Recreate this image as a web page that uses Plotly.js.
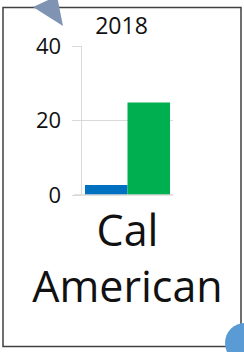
<!DOCTYPE html>
<html>
<head>
<meta charset="utf-8">
<script src="https://cdn.plot.ly/plotly-3.0.1.min.js"></script>
<style>
html,body{margin:0;padding:0;background:#fff;}
#chart{width:244px;height:352px;}
</style>
</head>
<body>
<div id="chart"></div>
<script>
// Data
var categories = ["Cal<br>American"];
var seriesA = [2.7];   // blue
var seriesB = [24.8];  // green
var yTickVals = [0, 20, 40];
var yTickText = ["0", "20", "40"];
var chartTitle = "2018";

// Pixel -> paper helpers for decorations (plot area: x 82..173, y 46..195)
var PL = 82, PR = 173, PT = 46, PB = 195;
function px(x){ return (x - PL) / (PR - PL); }
function py(y){ return (PB - y) / (PB - PT); }

var traces = [
  {type: "bar", x: categories, y: seriesA, marker: {color: "#0070c0"}, hoverinfo: "none"},
  {type: "bar", x: categories, y: seriesB, marker: {color: "#00b050"}, hoverinfo: "none"}
];

var layout = {
  width: 244, height: 352,
  margin: {l: PL, r: 244 - PR, t: PT, b: 352 - PB, pad: 0},
  paper_bgcolor: "#ffffff", plot_bgcolor: "#ffffff",
  showlegend: false,
  barmode: "group", bargap: 0.066, bargroupgap: 0,
  font: {family: "Open Sans", color: "#111111"},
  title: {text: chartTitle, font: {size: 23, color: "#111111", family: "Open Sans"},
          xref: "container", yref: "container", x: 0.498, xanchor: "center", y: 1 - 26/352, yanchor: "middle"},
  xaxis: {
    type: "category", showgrid: false, zeroline: false, showline: false,
    ticks: "", tickfont: {size: 43, family: "Open Sans", color: "#111111"},
    ticklabelstandoff: 7, fixedrange: true
  },
  yaxis: {
    range: [0, 40], tickvals: yTickVals, ticktext: yTickText,
    showgrid: true, gridcolor: "#d9d9d9", gridwidth: 1,
    zeroline: false, showline: true, linecolor: "#d9d9d9", linewidth: 1.5,
    ticks: "outside", ticklen: 9, tickcolor: "#d9d9d9", tickwidth: 1,
    ticklabelstandoff: 6,
    tickfont: {size: 22, family: "Open Sans", color: "#111111"}, fixedrange: true
  },
  shapes: [
    {type: "rect", xref: "paper", yref: "paper", x0: px(3), x1: px(241), y0: py(346.5), y1: py(7.5),
     line: {color: "#404040", width: 1.5}, fillcolor: "rgba(0,0,0,0)", layer: "above"},
    {type: "line", xref: "paper", yref: "paper", x0: px(74), x1: px(173), y0: py(195), y1: py(195),
     line: {color: "#d9d9d9", width: 1.5}},
    {type: "path", xref: "paper", yref: "paper",
     path: "M " + px(33) + " " + py(7) + " L " + px(57) + " " + py(-4) + " L " + px(63) + " " + py(26) + " Z",
     fillcolor: "#7f93b2", line: {width: 0}, layer: "above"},
    {type: "circle", xref: "paper", yref: "paper", x0: px(225), x1: px(265), y0: py(363), y1: py(323),
     fillcolor: "#5b9bd5", line: {width: 0}, layer: "above"}
  ]
};

Plotly.newPlot("chart", traces, layout, {displayModeBar: false, staticPlot: true});
</script>
</body>
</html>
